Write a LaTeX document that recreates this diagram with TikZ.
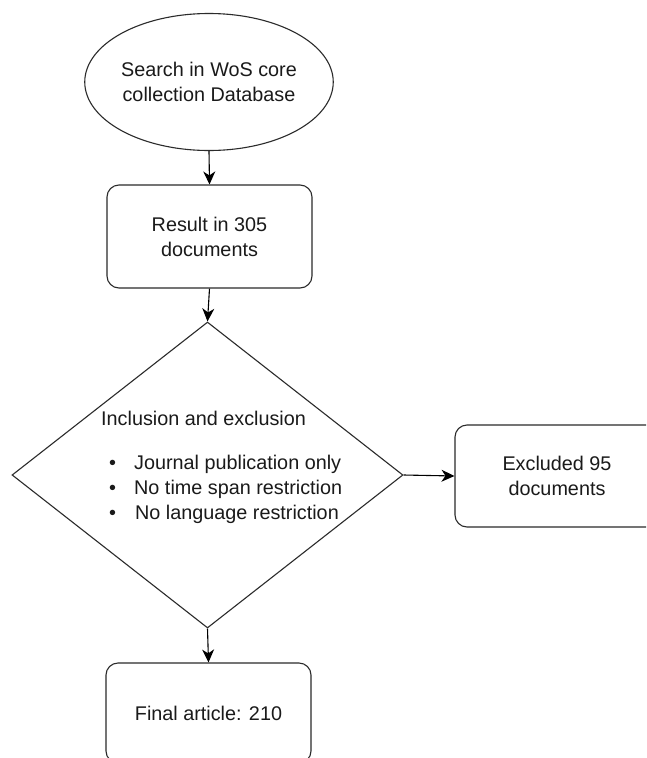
\documentclass[tikz,border=0pt]{standalone}
\usepackage{fontspec}
\setmainfont{Liberation Sans}
\usetikzlibrary{shapes.geometric,arrows.meta}
\definecolor{linec}{HTML}{2B2B2B}
\definecolor{textc}{HTML}{1A1A1A}
\tikzset{
  shapeline/.style={draw=linec, line width=1.1pt, text=textc, font=\fontsize{19.8}{25}\selectfont, align=center, inner sep=0pt},
  roundbox/.style={shapeline, rectangle, rounded corners=12pt, minimum width=205pt, minimum height=103pt},
  connector/.style={draw=black, line width=1.1pt, -{Stealth[length=13pt,width=12pt,inset=4pt]}},
}
\begin{document}
\begin{tikzpicture}[x=1pt,y=-1pt]
\useasboundingbox (0,0) rectangle (646,758);
\clip (0,0) rectangle (646,758);
\fill[white] (0,0) rectangle (646,758);

\node[shapeline, ellipse, minimum width=206pt, minimum height=137pt] (search) at (209,82) {Search in WoS core\\collection Database};
\node[roundbox] (result) at (209.5,236.5) {Result in 305\\documents};
\node[shapeline, diamond, minimum width=391pt, minimum height=306pt] (incl) at (207.5,475) {};
\node[text=textc, font=\fontsize{19.8}{25}\selectfont, align=left, inner sep=0pt, anchor=west] (incltext) at (101,467)
  {Inclusion and exclusion\\[19pt]
   \makebox[33pt][l]{\hspace{8pt}•}Journal publication only\\
   \makebox[33pt][l]{\hspace{8pt}•}No time span restriction\\
   \makebox[33pt][l]{\hspace{8pt}•}\hspace{1pt}No language restriction};
\node[roundbox, minimum width=204pt, minimum height=102pt] (excluded) at (557,476) {Excluded 95\\documents};
\node[roundbox, minimum height=100pt] (final) at (208.5,713) {Final article: 210};

\draw[connector] (search.south) -- (result.north);
\draw[connector] (result.south) -- (incl.north);
\draw[connector] (incl.east) -- (excluded.west);
\draw[connector] (incl.south) -- (final.north);
\end{tikzpicture}
\end{document}
